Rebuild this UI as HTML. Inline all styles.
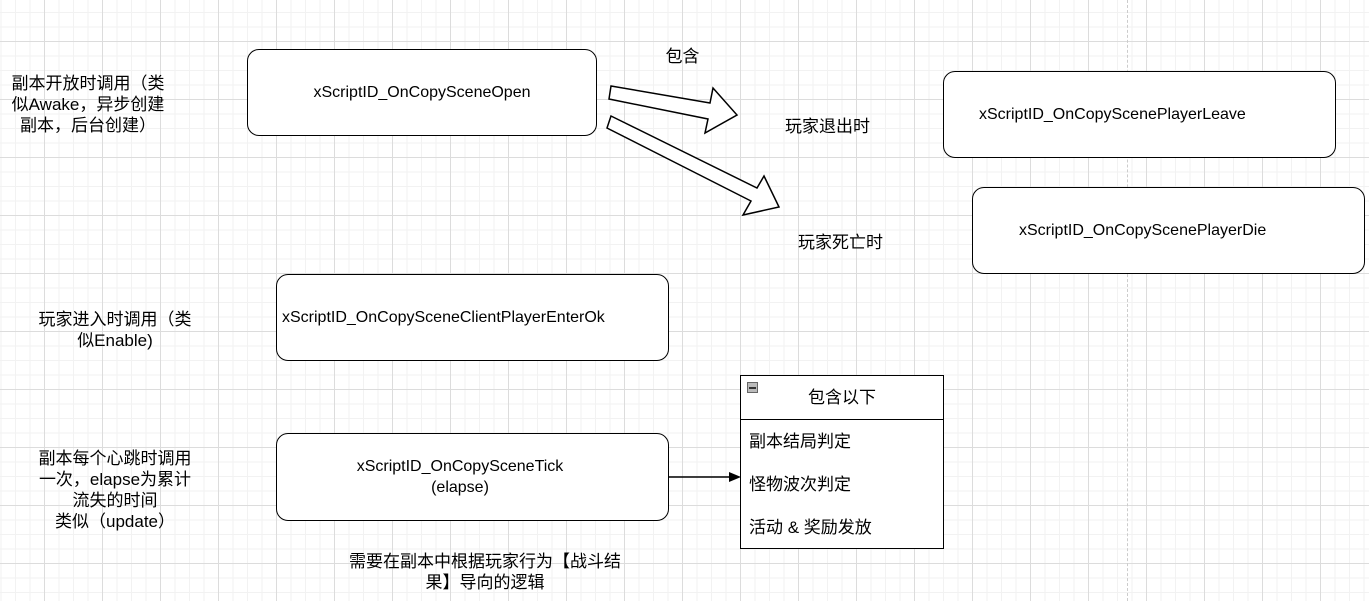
<!DOCTYPE html>
<html><head><meta charset="utf-8"><style>
body{margin:0;width:1369px;height:601px;overflow:hidden;background:#fff;
background-image:linear-gradient(#dcdcdc 1px,transparent 1px),linear-gradient(90deg,#dcdcdc 1px,transparent 1px),linear-gradient(#f2f2f2 1px,transparent 1px),linear-gradient(90deg,#f2f2f2 1px,transparent 1px);
background-size:58px 58px,58px 58px,14.5px 14.5px,14.5px 14.5px;background-position:44px 41px,44px 41px,0.5px 12px,0.5px 12px;
font-family:"Liberation Sans","Noto Sans CJK SC",sans-serif;font-size:16px;color:#000;position:relative}
.b{position:absolute;border:1.5px solid #000;border-radius:12px;background:#fff;box-sizing:border-box;display:flex;align-items:center;justify-content:center;text-align:center}
.t{position:absolute;text-align:center;line-height:21px;font-size:17px}
</style></head><body>
<div style="position:absolute;left:1127px;top:0;height:601px;border-left:1px dashed #ccc"></div>
<div class="b" style="left:247px;top:49px;width:350px;height:87px">xScriptID_OnCopySceneOpen</div>
<div class="b" style="left:943px;top:71px;width:393px;height:87px;justify-content:flex-start;padding-left:35px">xScriptID_OnCopyScenePlayerLeave</div>
<div class="b" style="left:972px;top:187px;width:393px;height:87px;justify-content:flex-start;padding-left:46px">xScriptID_OnCopyScenePlayerDie</div>
<div class="b" style="left:276px;top:274px;width:393px;height:87px;justify-content:flex-start;padding-left:5px">xScriptID_OnCopySceneClientPlayerEnterOk</div>
<div class="b" style="left:276px;top:433px;width:393px;height:88px;flex-direction:column;padding-right:25px;line-height:21px">xScriptID_OnCopySceneTick<br>(elapse)</div>
<div class="t" style="left:0;top:73px;width:176px">副本开放时调用（类<br>似Awake，异步创建<br>副本，后台创建）</div>
<div class="t" style="left:20px;top:309px;width:190px">玩家进入时调用（类<br>似Enable)</div>
<div class="t" style="left:20px;top:448px;width:190px">副本每个心跳时调用<br>一次，elapse为累计<br>流失的时间<br>类似（update）</div>
<div class="t" style="left:330px;top:551px;width:310px">需要在副本中根据玩家行为【战斗结<br>果】导向的逻辑</div>
<div class="t" style="left:650px;top:46px;width:65px">包含</div>
<div class="t" style="left:770px;top:116px;width:115px">玩家退出时</div>
<div class="t" style="left:783px;top:232px;width:115px">玩家死亡时</div>
<svg style="position:absolute;left:0;top:0" width="1369" height="601">
<polygon points="611,86 609,99 708,119 705,133 737,115 713,88 710,103" fill="#fff" stroke="#000" stroke-width="1.5"/>
<polygon points="611,116 607,128 751,201 743,215 779,207 764,176 757,188" fill="#fff" stroke="#000" stroke-width="1.5"/>
<line x1="669" y1="477" x2="732" y2="477" stroke="#000" stroke-width="1.5"/>
<polygon points="741,477 729,472 729,482" fill="#000"/>
</svg>
<div style="position:absolute;left:740px;top:375px;width:204px;height:174px;border:1.5px solid #000;box-sizing:border-box;background:#fff;font-size:17px">
<div style="height:43px;border-bottom:1.5px solid #000;position:relative;text-align:center;line-height:43px">包含以下
<div style="position:absolute;left:6px;top:6px;width:11px;height:11px;background:#bbb;border:1px solid #666;box-sizing:border-box"><div style="position:absolute;left:1px;top:4px;width:7px;height:1.5px;background:#333"></div></div></div>
<div style="padding-left:8px;line-height:43px">副本结局判定<br>怪物波次判定<br>活动 &amp; 奖励发放</div>
</div>
</body></html>
